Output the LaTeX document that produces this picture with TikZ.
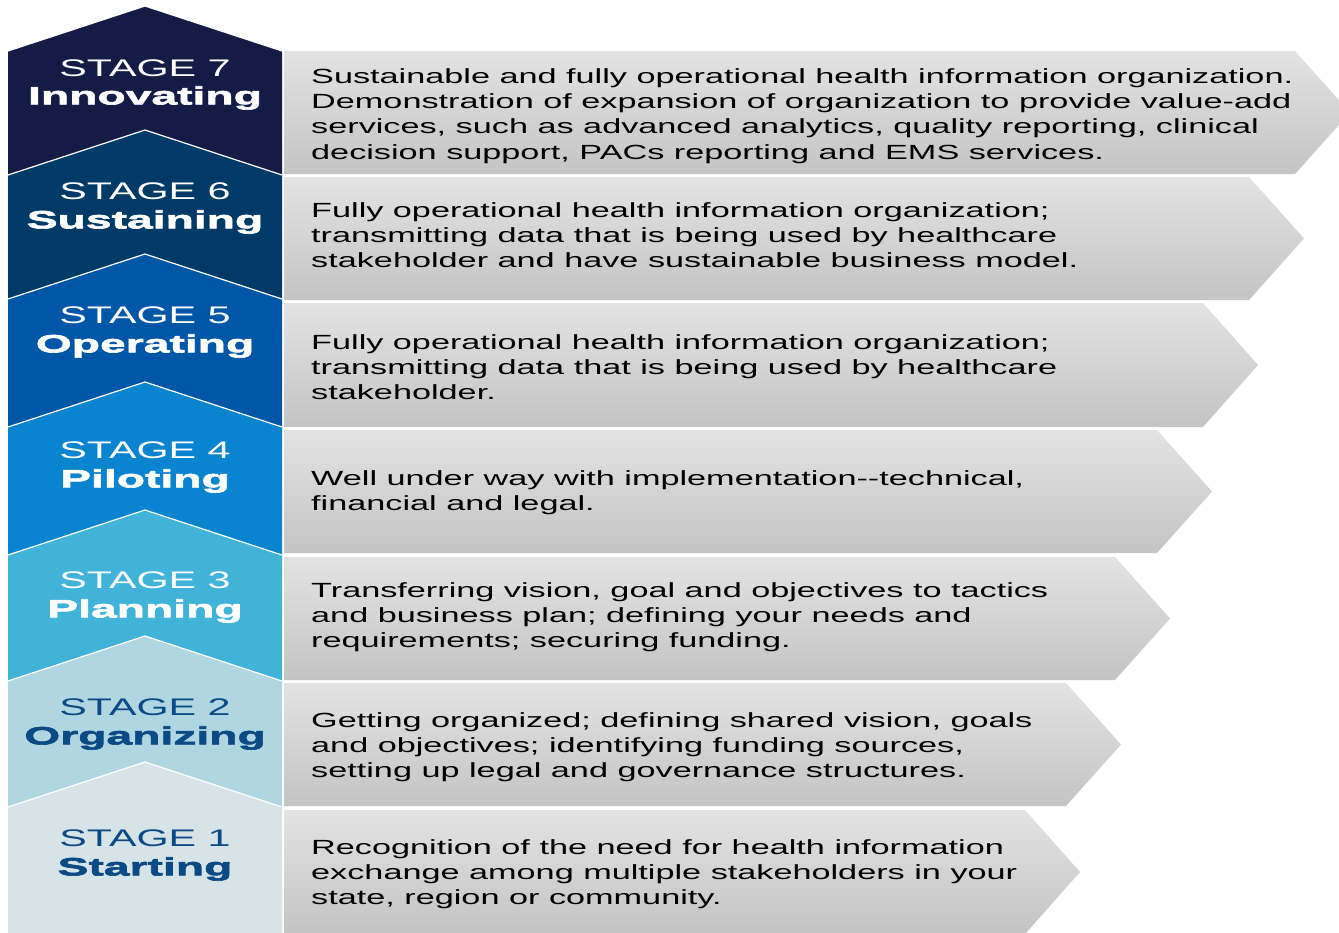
\documentclass[tikz,border=0pt]{standalone}
\usepackage{fontspec}
\setmainfont[FakeStretch=1.67]{Liberation Sans}
\newfontfamily\stagefont[FakeStretch=1.72]{Liberation Sans}
\newfontfamily\namefont[FakeStretch=1.85,FakeBold=2.5]{Liberation Sans Bold}
\usepackage{tikz}
\definecolor{stSeven}{HTML}{141B45}
\definecolor{stSix}{HTML}{003B68}
\definecolor{stFive}{HTML}{0057A8}
\definecolor{stFour}{HTML}{0A84CF}
\definecolor{stThree}{HTML}{41B2D8}
\definecolor{stTwo}{HTML}{B0D6E2}
\definecolor{stOne}{HTML}{D6E3E7}
\definecolor{darkText}{HTML}{0B4A85}
\definecolor{panelTop}{HTML}{E3E3E3}
\definecolor{panelMid}{HTML}{DCDCDC}
\definecolor{panelBot}{HTML}{C4C4C4}
% chevron: shoulder y, bottom y, colour
\newcommand{\chev}[3]{ \fill[#3] (8,#1) -- (145,#1-45) -- (282,#1) -- (282,#2) -- (8,#2) -- cycle; \draw[white, line width=1.2pt] (8,#1) -- (145,#1-45) -- (282,#1);}
% panel: top y, bottom y, tip x
\newcommand{\panel}[3]{ \shade[top color=panelTop, middle color=panelMid, bottom color=panelBot, shading angle=0] (284,#1) -- (#3-55,#1) -- (#3,#1*0.5+#2*0.5) -- (#3-55,#2) -- (284,#2) -- cycle;}
\tikzset{
  stagelabel/.style={font=\stagefont\fontsize{24}{24}\selectfont, text=white, inner sep=0pt},
  namelabel/.style={font=\namefont\fontsize{25}{25}\selectfont, text=white, inner sep=0pt},
  desc/.style={font=\fontsize{20.5}{25.3}\selectfont, anchor=west, align=left, inner sep=0pt, text=black}
}
\begin{document}
\begin{tikzpicture}[x=1pt, y=-1pt]
        \clip (0,0) rectangle (1339,932);
        \fill[white] (0,0) rectangle (1339,932);
        % chevrons
        \chev{51}{176}{stSeven}
        \chev{175}{300}{stSix}
        \chev{299}{428}{stFive}
        \chev{427}{556}{stFour}
        \chev{555}{682}{stThree}
        \chev{681}{808}{stTwo}
        \chev{807}{940}{stOne}
        % panels
        \panel{51}{174}{1350}
        \panel{177}{300}{1304}
        \panel{303}{427}{1258}
        \panel{430}{553}{1212}
        \panel{557}{680}{1170}
        \panel{683}{806}{1121}
        \panel{810}{934}{1080}
        % stage titles
        \node[stagelabel] (s7) at (145,68) {STAGE 7};
        \node[namelabel] (n7) at (145,98) {Innovating};
        \node[stagelabel] (s6) at (145,191) {STAGE 6};
        \node[namelabel] (n6) at (145,222) {Sustaining};
        \node[stagelabel] (s5) at (145,315) {STAGE 5};
        \node[namelabel] (n5) at (145,346) {Operating};
        \node[stagelabel] (s4) at (145,450) {STAGE 4};
        \node[namelabel] (n4) at (145,481) {Piloting};
        \node[stagelabel] (s3) at (145,580) {STAGE 3};
        \node[namelabel] (n3) at (145,611) {Planning};
        \node[stagelabel, text=darkText] (s2) at (145,707) {STAGE 2};
        \node[namelabel, text=darkText] (n2) at (145,738) {Organizing};
        \node[stagelabel, text=darkText] (s1) at (145,838) {STAGE 1};
        \node[namelabel, text=darkText] (n1) at (145,869) {Starting};
        % descriptions
        \node[desc] (d7) at (311,116) {Sustainable and fully operational health information organization.\\Demonstration of expansion of organization to provide value-add\\services, such as advanced analytics, quality reporting, clinical\\decision support, PACs reporting and EMS services.};
        \node[desc] (d6) at (311,235) {Fully operational health information organization;\\transmitting data that is being used by healthcare\\stakeholder and have sustainable business model.};
        \node[desc] (d5) at (311,367) {Fully operational health information organization;\\transmitting data that is being used by healthcare\\stakeholder.};
        \node[desc] (d4) at (311,492.5) {Well under way with implementation-{}-technical,\\financial and legal.};
        \node[desc] (d3) at (311,617) {Transferring vision, goal and objectives to tactics\\and business plan; defining your needs and\\requirements; securing funding.};
        \node[desc] (d2) at (311,747) {Getting organized; defining shared vision, goals\\and objectives; identifying funding sources,\\setting up legal and governance structures.};
        \node[desc] (d1) at (311,874) {Recognition of the need for health information\\exchange among multiple stakeholders in your\\state, region or community.};
    \end{tikzpicture}
\end{document}
